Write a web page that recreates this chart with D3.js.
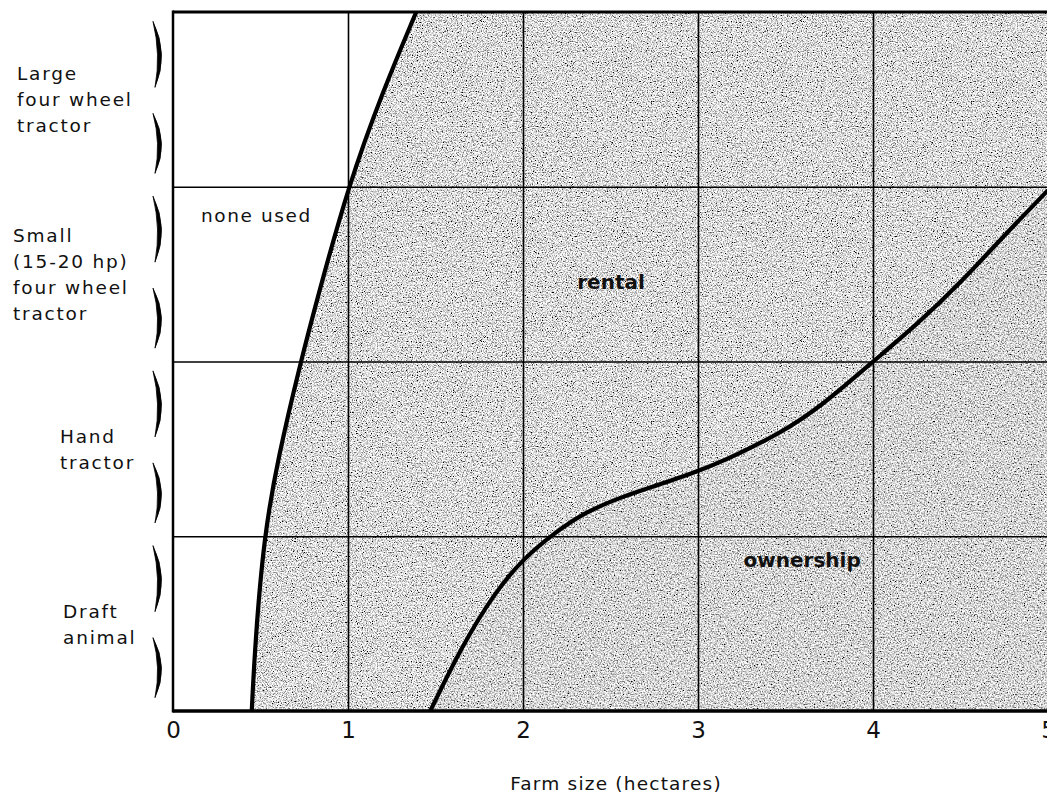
<!DOCTYPE html>
<html>
<head>
<meta charset="utf-8">
<script src="https://cdn.jsdelivr.net/npm/d3@7"></script>
<style>
  body { margin: 0; background: #fff; }
  text { font-family: "DejaVu Sans", sans-serif; fill: #111; }
</style>
</head>
<body>
<div id="chart"></div>
<script>
var svgWidth = 1047;
var svgHeight = 795;

// farm size (ha) ticks
var xTicks = [0, 1, 2, 3, 4, 5];
var levelBreaks = [1, 2, 3];

// power source categories, bottom to top, one entry per band
var categories = [
  ["Draft", "animal"],
  ["Hand", "tractor"],
  ["Small", "(15-20 hp)", "four wheel", "tractor"],
  ["Large", "four wheel", "tractor"]
];

// boundary "none used" / "rental": [farm size, level]
var noneLimit = [[0.45, 0], [0.47, 0.4], [0.52, 1], [0.6, 1.45], [0.73, 2],
  [0.83, 2.38], [1.0, 3], [1.2, 3.55], [1.39, 4]];

// boundary "rental" / "ownership": [farm size, level]
var ownLimit = [[1.47, 0], [1.65, 0.37], [1.84, 0.68], [2.0, 0.87], [2.18, 1.02],
  [2.36, 1.14], [2.55, 1.22], [2.76, 1.29], [3.0, 1.37], [3.23, 1.47], [3.47, 1.59],
  [3.7, 1.74], [4.0, 2.0], [4.25, 2.21], [4.5, 2.45], [4.73, 2.7], [5.0, 2.98]];

var regionLabels = [
  { text: "none used", x: 0.16, y: 2.8, bold: false },
  { text: "rental", x: 2.31, y: 2.415, bold: true },
  { text: "ownership", x: 3.26, y: 0.825, bold: true }
];

var margin = { top: 12, left: 173 };
var x = d3.scaleLinear().domain([0, 5]).range([margin.left, 1048]);
var y = d3.scaleLinear().domain([0, 4]).range([711, margin.top]);

var svg = d3.select("#chart")
  .append("svg")
  .attr("width", svgWidth)
  .attr("height", svgHeight);

var defs = svg.append("defs");

// speckled halftone look
function speckle(id, gain, offset, freq) {
  var f = defs.append("filter").attr("id", id)
    .attr("x", 0).attr("y", 0).attr("width", 1).attr("height", 1);
  f.append("feTurbulence").attr("type", "fractalNoise")
    .attr("baseFrequency", freq).attr("numOctaves", 2).attr("seed", 7).attr("result", "n");
  var row = gain + " 0 0 0 " + offset + " ";
  var m = row + row + row + "0 0 0 0 1";
  f.append("feColorMatrix").attr("in", "n").attr("type", "matrix").attr("values", m).attr("result", "g");
  f.append("feComposite").attr("in", "g").attr("in2", "SourceGraphic").attr("operator", "in");
}
speckle("rentalTex", 2.7, -0.63, 0.8);
speckle("ownTex", 2.3, -0.48, 0.7);

defs.append("clipPath").attr("id", "plotClip")
  .append("rect")
  .attr("x", x(0)).attr("y", y(4))
  .attr("width", svgWidth - x(0)).attr("height", y(0) - y(4));

var plot = svg.append("g").attr("clip-path", "url(#plotClip)");

// shaded area right of the first boundary
var rentalArea = d3.area()
  .y(d => y(d[1]))
  .x0(d => x(d[0]))
  .x1(x(5.3))
  .curve(d3.curveBasis);

plot.append("path")
  .attr("d", rentalArea(noneLimit))
  .attr("fill", "#000")
  .attr("filter", "url(#rentalTex)");

// ownership area under the second boundary
var ownArea = d3.area()
  .x(d => x(d[0]))
  .y0(y(0))
  .y1(d => y(d[1]))
  .curve(d3.curveBasis);

plot.append("path")
  .attr("d", ownArea(ownLimit))
  .attr("fill", "#000")
  .attr("filter", "url(#ownTex)");

// grid
var vGrid = d3.axisBottom(x).tickValues(xTicks.slice(1)).tickSize(-(y(0) - y(4))).tickFormat("");
plot.append("g")
  .attr("transform", `translate(0, ${y(0)})`)
  .call(vGrid)
  .call(g => g.select(".domain").remove())
  .call(g => g.selectAll("line").attr("stroke", "#000").attr("stroke-width", 1.6));

var hGrid = d3.axisLeft(y).tickValues(levelBreaks).tickSize(-(svgWidth - x(0))).tickFormat("");
plot.append("g")
  .attr("transform", `translate(${x(0)}, 0)`)
  .call(hGrid)
  .call(g => g.select(".domain").remove())
  .call(g => g.selectAll("line").attr("stroke", "#000").attr("stroke-width", 1.5));

// boundary curves
var limitLine = d3.line()
  .x(d => x(d[0]))
  .y(d => y(d[1]))
  .curve(d3.curveBasis);

[noneLimit, ownLimit].forEach(function(pts) {
  plot.append("path")
    .attr("d", limitLine(pts))
    .attr("fill", "none")
    .attr("stroke", "#000")
    .attr("stroke-width", 4.2);
});

// frame
svg.append("line").attr("x1", x(0)).attr("x2", svgWidth).attr("y1", y(4)).attr("y2", y(4))
  .attr("stroke", "#000").attr("stroke-width", 3);
svg.append("line").attr("x1", x(0)).attr("x2", svgWidth).attr("y1", y(0)).attr("y2", y(0))
  .attr("stroke", "#000").attr("stroke-width", 3.5);
svg.append("line").attr("x1", x(0)).attr("x2", x(0)).attr("y1", y(4) - 1.5).attr("y2", y(0) + 1.5)
  .attr("stroke", "#000").attr("stroke-width", 2.5);

// x axis tick labels
var xAxis = d3.axisBottom(x).tickValues(xTicks).tickSize(0).tickPadding(0).tickFormat(d3.format("d"));
svg.append("g")
  .attr("transform", `translate(0, ${y(0)})`)
  .call(xAxis)
  .call(g => g.select(".domain").remove())
  .call(g => g.selectAll("text")
    .attr("y", 27)
    .attr("dy", 0)
    .attr("font-family", "Liberation Sans Narrow, Liberation Sans, sans-serif")
    .attr("font-size", 23)
    .attr("fill", "#111"));

svg.append("text")
  .attr("x", 616)
  .attr("y", 790)
  .attr("text-anchor", "middle")
  .attr("font-size", 18.5)
  .attr("letter-spacing", 1.2)
  .text("Farm size (hectares)");

// category labels with braces
var labelX = [63, 60, 13, 17];
categories.forEach(function(lines, i) {
  var c = y(i + 0.5);
  var t = svg.append("text")
    .attr("font-size", 18.5)
    .attr("letter-spacing", 1.8);
  lines.forEach(function(s, j) {
    t.append("tspan")
      .attr("x", labelX[i])
      .attr("y", c + (j - (lines.length - 1) / 2) * 26 + 7)
      .text(s);
  });

  [[-78, -12], [14, 74]].forEach(function(seg) {
    var a = c + seg[0], b = c + seg[1], m = (a + b) / 2;
    svg.append("path")
      .attr("d", `M153,${a} Q169,${m} 155,${b} Q161,${m} 153,${a} Z`)
      .attr("fill", "#000")
      .attr("stroke", "#000")
      .attr("stroke-width", 0.8);
  });
});

// region labels
regionLabels.forEach(function(d) {
  svg.append("text")
    .attr("x", x(d.x))
    .attr("y", y(d.y))
    .attr("font-size", d.bold ? 20 : 18.5)
    .attr("font-weight", d.bold ? "bold" : "normal")
    .attr("letter-spacing", d.bold ? 0 : 1.6)
    .text(d.text);
});
</script>
</body>
</html>
